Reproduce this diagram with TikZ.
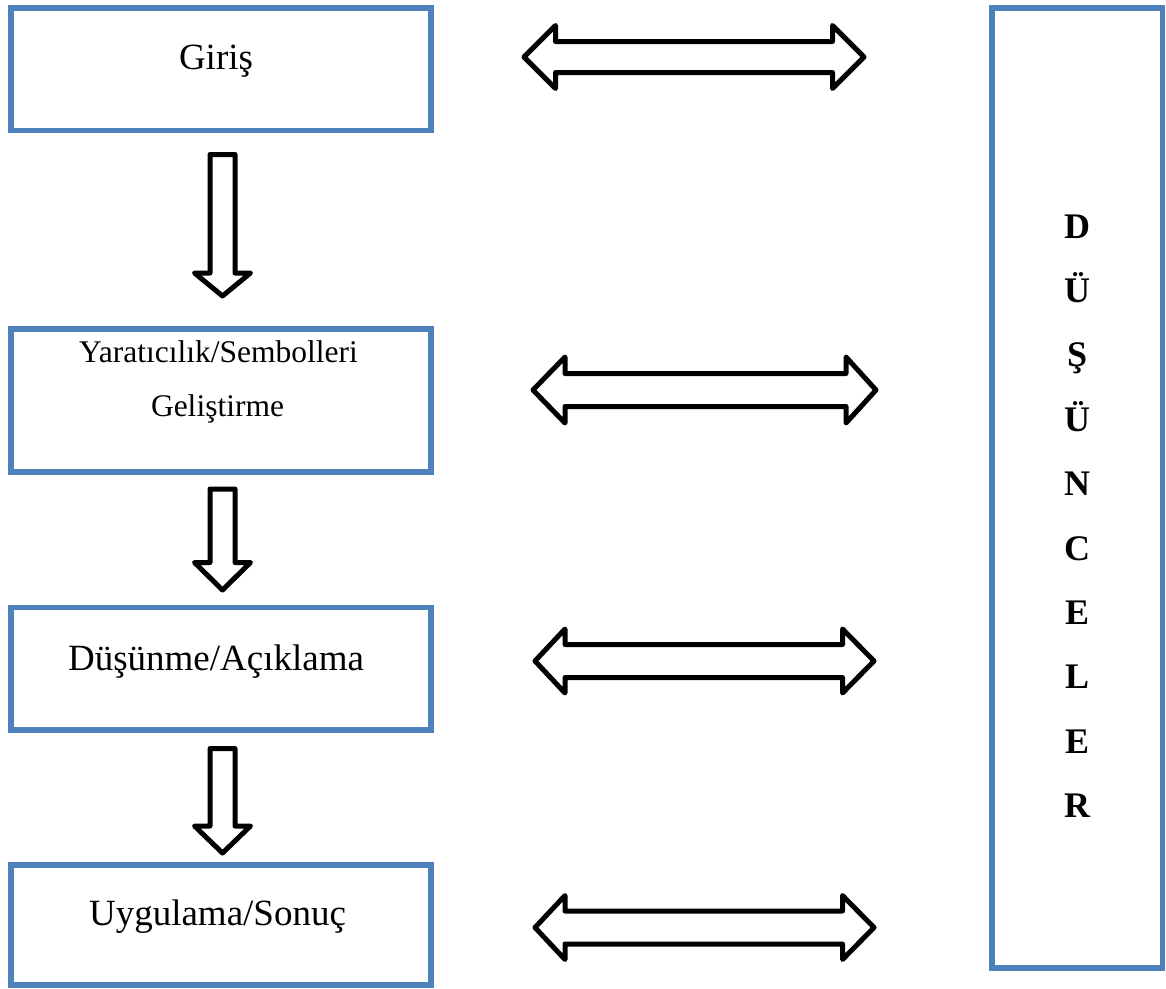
\documentclass[tikz,border=0pt]{standalone}
\usepackage{fontspec}
\setmainfont{Liberation Serif}
\definecolor{frameblue}{RGB}{79,129,189}
\tikzset{
  frame/.style={draw=frameblue, line width=5.5pt, inner sep=0pt, outer sep=0pt},
  blockarrow/.style={draw=black, line width=5pt, line join=round, fill=white},
  boxtext/.style={anchor=base, inner sep=0pt, font=\fontsize{37}{44}\selectfont},
  smalltext/.style={anchor=base, inner sep=0pt, font=\fontsize{31.5}{38}\selectfont},
  letter/.style={anchor=base, inner sep=0pt, font=\fontsize{36}{40}\selectfont\bfseries},
}
% hollow block arrow pointing down: centre x, top, wing level, tip
\newcommand\blockdown[4]{%
  \draw[blockarrow] ({#1-12.5},#2) -- ({#1+12.5},#2) -- ({#1+12.5},#3) -- ({#1+28},#3)
    -- (#1,#4) -- ({#1-28},#3) -- ({#1-12.5},#3) -- cycle;}
% hollow double-headed block arrow:
% left tip, left wing, right wing, right tip, centre y, head half-height, shaft half-height
\newcommand\blockboth[7]{%
  \draw[blockarrow] (#1,#5) -- (#2,{#5-#6}) -- (#2,{#5-#7}) -- (#3,{#5-#7}) -- (#3,{#5-#6})
    -- (#4,#5) -- (#3,{#5+#6}) -- (#3,{#5+#7}) -- (#2,{#5+#7}) -- (#2,{#5+#6}) -- cycle;}
\begin{document}
\begin{tikzpicture}[x=1pt,y=-1pt]
\useasboundingbox (0,0) rectangle (1166,988);
\fill[white] (0,0) rectangle (1166,988);

% stage boxes
\node[frame, minimum width=420pt, minimum height=122.5pt] (giris) at (221,69.25) {};
\node[frame, minimum width=420pt, minimum height=143pt]   (yarat) at (221,400.5) {};
\node[frame, minimum width=420pt, minimum height=122.5pt] (dusun) at (221,668.75) {};
\node[frame, minimum width=420pt, minimum height=120pt]   (uygul) at (221,925) {};

% tall box on the right
\node[frame, minimum width=170.5pt, minimum height=960pt] (dusunceler) at (1077.25,488) {};

% box labels
\node[boxtext] (tgiris) at (216,69) {Giriş};
\node[smalltext] (tyarat1) at (218.5,362) {Yaratıcılık/Sembolleri};
\node[smalltext] (tyarat2) at (217.5,416) {Geliştirme};
\node[boxtext] (tdusun) at (216,670) {Düşünme/Açıklama};
\node[boxtext] (tuygul) at (217.5,925) {Uygulama/Sonuç};

% vertical lettering
\foreach \ch [count=\i] in {D,Ü,Ş,Ü,N,C,E,L,E,R}
  \node[letter] (d\i) at (1077,{238+(\i-1)*64.4}) {\ch};

% flow arrows between the stages
\blockdown{222.5}{154.5}{273}{296}
\blockdown{222.5}{489}{562.5}{590}
\blockdown{222.5}{748.5}{826}{853}

% two-way arrows towards the right box
\blockboth{524}{555.5}{832.5}{864}{57}{31.5}{15.5}
\blockboth{533}{565}{846}{876}{390}{33}{16.5}
\blockboth{535}{565}{842.5}{874}{661}{32}{16.5}
\blockboth{535}{565}{842.5}{874}{927.5}{32}{16.5}
\end{tikzpicture}
\end{document}
